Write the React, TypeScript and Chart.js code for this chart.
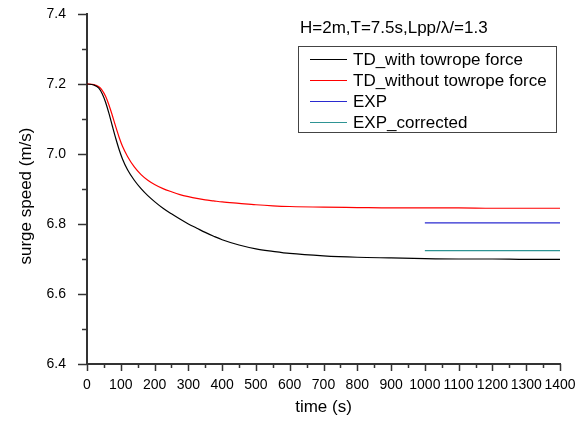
import React, { useEffect, useRef } from "react";
import { Chart, registerables } from "chart.js";

Chart.register(...registerables);

const times = [0, 20, 35, 45, 55, 65, 75, 85, 95, 105, 120, 140, 160, 180, 200, 225, 250, 275, 300, 325, 350, 375, 400, 450, 500, 550, 600, 700, 800, 900, 1000, 1100, 1200, 1300, 1400];
const tdWith = [7.2, 7.197, 7.188, 7.172, 7.148, 7.116, 7.08, 7.045, 7.013, 6.986, 6.955, 6.925, 6.901, 6.881, 6.864, 6.845, 6.829, 6.814, 6.8, 6.788, 6.776, 6.765, 6.755, 6.74, 6.729, 6.722, 6.716, 6.709, 6.705, 6.703, 6.701, 6.7, 6.7, 6.699, 6.699];
const tdWithout = [7.2, 7.198, 7.192, 7.182, 7.165, 7.14, 7.11, 7.078, 7.048, 7.022, 6.993, 6.963, 6.941, 6.925, 6.913, 6.901, 6.892, 6.884, 6.878, 6.873, 6.869, 6.866, 6.863, 6.859, 6.855, 6.852, 6.85, 6.848, 6.847, 6.846, 6.846, 6.846, 6.845, 6.845, 6.845];
const expTimes = [1000, 1400];
const expValues = [6.803, 6.803];
const expCorrected = [6.724, 6.724];
const seriesLabels = ["TD_with towrope force", "TD_without towrope force", "EXP", "EXP_corrected"];
const seriesColors = ["#000000", "#ff0000", "#2a2ad0", "#2e9494"];
const annotation = "H=2m,T=7.5s,Lpp/\u03bb/=1.3";
const xTitle = "time (s)";
const yTitle = "surge speed (m/s)";

const FONT = "'Liberation Sans', Arial, sans-serif";

const pts = (xs: number[], ys: number[]) => xs.map((x, i) => ({ x, y: ys[i] }));

const extrasPlugin = {
  id: "extras",
  afterDraw(chart: any) {
    const ctx = chart.ctx;
    const xs = chart.scales.x;
    const ys = chart.scales.y;
    const area = chart.chartArea;
    ctx.save();
    ctx.strokeStyle = "#333";
    ctx.lineWidth = 1.5;
    for (let v = 0; v <= 1400; v += 50) {
      const px = Math.round(xs.getPixelForValue(v)) + 0.5;
      const len = v % 100 === 0 ? 7 : 4;
      ctx.beginPath();
      ctx.moveTo(px, area.bottom);
      ctx.lineTo(px, area.bottom + len);
      ctx.stroke();
    }
    for (let i = 0; i <= 10; i++) {
      const v = 6.4 + i * 0.1;
      const py = Math.round(ys.getPixelForValue(v)) + 0.5;
      const len = i % 2 === 0 ? 9 : 5;
      ctx.beginPath();
      ctx.moveTo(area.left, py);
      ctx.lineTo(area.left - len, py);
      ctx.stroke();
    }
    ctx.fillStyle = "#000";
    ctx.font = `17px ${FONT}`;
    ctx.textAlign = "center";
    ctx.textBaseline = "middle";
    ctx.save();
    ctx.translate(26, 196);
    ctx.rotate(-Math.PI / 2);
    ctx.fillText(yTitle, 0, 0);
    ctx.restore();
    ctx.textAlign = "left";
    ctx.fillText(annotation, 300, 28);
    ctx.strokeStyle = "#444";
    ctx.lineWidth = 1;
    ctx.strokeRect(298.5, 46.5, 258, 86);
    const rows = [59.5, 80.5, 101.5, 122.5];
    chart.data.datasets.forEach((ds: any, i: number) => {
      const y = rows[i];
      ctx.strokeStyle = ds.borderColor;
      ctx.lineWidth = 1.2;
      ctx.beginPath();
      ctx.moveTo(310, y);
      ctx.lineTo(347, y);
      ctx.stroke();
      ctx.fillStyle = "#000";
      ctx.fillText(ds.label, 353, y + 1);
    });
    ctx.restore();
  },
};

export default function App() {
  const ref = useRef<HTMLCanvasElement>(null);
  useEffect(() => {
    if (!ref.current) return;
    const mk = (i: number, data: any[]) => ({
      label: seriesLabels[i],
      data,
      borderColor: seriesColors[i],
      backgroundColor: seriesColors[i],
      borderWidth: 1.2,
      pointRadius: 0,
      cubicInterpolationMode: "monotone" as const,
      fill: false,
    });
    const chart = new Chart(ref.current, {
      type: "line",
      data: {
        datasets: [
          mk(0, pts(times, tdWith)),
          mk(1, pts(times, tdWithout)),
          mk(2, pts(expTimes, expValues)),
          mk(3, pts(expTimes, expCorrected)),
        ],
      },
      options: {
        animation: false,
        responsive: false,
        devicePixelRatio: 1,
        layout: { padding: { left: 0, right: 23, top: 14, bottom: 0 } },
        plugins: { legend: { display: false }, tooltip: { enabled: false } },
        scales: {
          x: {
            type: "linear",
            min: 0,
            max: 1400,
            grid: { display: false },
            border: { display: true, color: "#333", width: 2 },
            ticks: {
              stepSize: 100,
              autoSkip: false,
              maxRotation: 0,
              padding: 5,
              color: "#000",
              font: { family: FONT, size: 14 },
              callback: (v: any) => String(v),
            },
            title: {
              display: true,
              text: xTitle,
              color: "#000",
              font: { family: FONT, size: 17 },
              padding: { top: 0, bottom: 4 },
            },
            afterFit: (s: any) => {
              s.height = 58;
              s.paddingLeft = 0;
              s.paddingRight = 0;
            },
          },
          y: {
            type: "linear",
            min: 6.4,
            max: 7.4,
            grid: { display: false },
            border: { display: true, color: "#333", width: 2 },
            ticks: {
              stepSize: 0.2,
              padding: 13,
              color: "#000",
              font: { family: FONT, size: 14 },
              callback: (v: any) => Number(v).toFixed(1),
            },
            afterFit: (s: any) => {
              s.width = 87;
              s.paddingTop = 0;
              s.paddingBottom = 0;
            },
          },
        },
      },
      plugins: [extrasPlugin],
    });
    return () => chart.destroy();
  }, []);
  return (
    <div style={{ position: "absolute", left: 0, top: 0, width: 583, height: 422, background: "#fff" }}>
      <canvas ref={ref} width={583} height={422} />
    </div>
  );
}
